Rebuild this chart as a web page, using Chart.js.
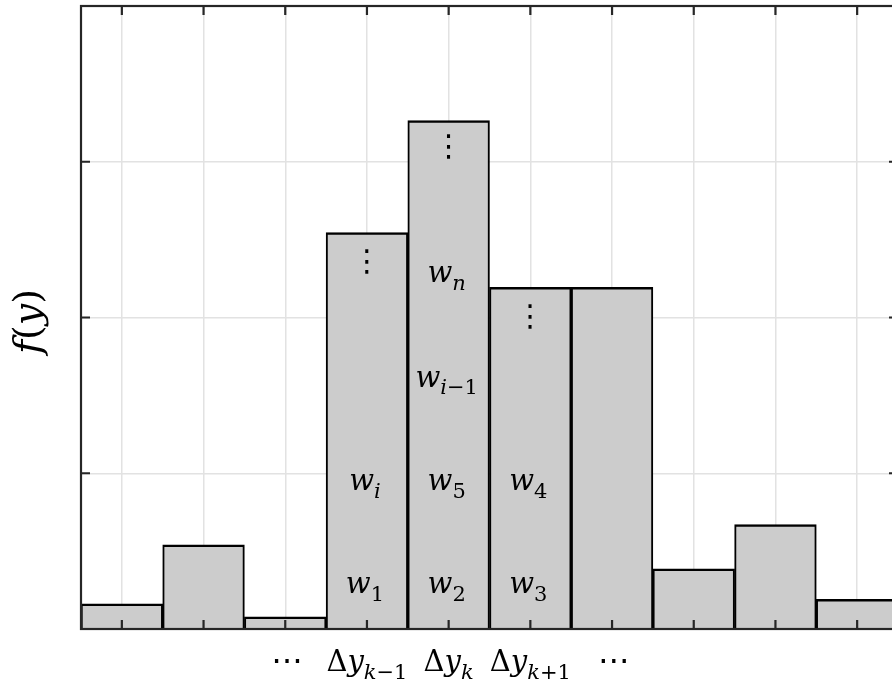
<!DOCTYPE html>
<html>
<head>
<meta charset="utf-8">
<script src="https://cdn.jsdelivr.net/npm/chart.js@4"></script>
<style>
  html, body { margin: 0; padding: 0; background: #fff; overflow: hidden; }
  /* the plot box runs a little past the right edge of the window, as in the original */
  #hist { display: block; }
</style>
</head>
<body>
<canvas id="hist" width="920" height="685"></canvas>
<script>
// histogram bins, heights
const bins = ['b1', 'b2', 'b3', 'b4', 'b5', 'b6', 'b7', 'b8', 'b9', 'b10'];
const density = [0.162, 0.541, 0.078, 2.546, 3.264, 2.193, 2.193, 0.387, 0.670, 0.190];
const binLabels = ['', '', '⋯', 'Δy_{k−1}', 'Δy_k', 'Δy_{k+1}', '⋯', '', '', ''];
const yMax = 4;
const yTitle = 'f(y)';

// weights written inside the bars: bin index, height (data units), text
const noteBin = [3, 3, 3, 4, 4, 4, 4, 4, 5, 5, 5];
const noteAt = [0.228, 0.89, 2.351, 0.228, 0.89, 1.556, 2.229, 3.085, 0.228, 0.89, 1.998];
const noteText = ['w_1', 'w_i', '⋮', 'w_2', 'w_5', 'w_{i−1}', 'w_n', '⋮', 'w_3', 'w_4', '⋮'];

const SERIF = '"DejaVu Serif", "DejaVu Sans", serif';

// split 'Δy_{k−1}' into runs: base text and subscript
function parseMath(s) {
    const runs = [];
    let i = 0;
    while (i < s.length) {
        if (s[i] === '_') {
            let sub;
            if (s[i + 1] === '{') {
                const end = s.indexOf('}', i);
                sub = s.slice(i + 2, end);
                i = end + 1;
            } else {
                sub = s[i + 1];
                i += 2;
            }
            for (const ch of sub) runs.push({ ch, sub: true });
        } else {
            runs.push({ ch: s[i], sub: false });
            i++;
        }
    }
    return runs;
}

function fontFor(r, size) {
    const sz = r.sub ? Math.round(size * 0.74) : size;
    const italic = /[A-Za-z]/.test(r.ch);
    return (italic ? 'italic ' : '') + sz + 'px ' + SERIF;
}

// draws a little math string centred on x, baseline at y
function drawMath(ctx, s, x, y, size) {
    const runs = parseMath(s);
    let total = 0;
    runs.forEach(r => {
        ctx.font = fontFor(r, size);
        r.w = ctx.measureText(r.ch).width;
        total += r.w;
    });
    let cx = x - total / 2;
    ctx.textAlign = 'left';
    ctx.textBaseline = 'alphabetic';
    runs.forEach(r => {
        ctx.font = fontFor(r, size);
        ctx.fillText(r.ch, cx, y + (r.sub ? size * 0.27 : 0));
        cx += r.w;
    });
}

const boxPlugin = {
    id: 'box',
    afterDatasetsDraw(chart) {
        const { ctx, chartArea: a, scales } = chart;
        ctx.save();
        ctx.strokeStyle = '#262626';
        ctx.lineWidth = 2.2;
        ctx.strokeRect(a.left, a.top, a.right - a.left, a.bottom - a.top);
        // inward ticks on all four sides
        const len = 9;
        ctx.beginPath();
        scales.x.ticks.forEach((t, i) => {
            const px = scales.x.getPixelForTick(i);
            ctx.moveTo(px, a.bottom); ctx.lineTo(px, a.bottom - len);
            ctx.moveTo(px, a.top); ctx.lineTo(px, a.top + len);
        });
        scales.y.ticks.forEach((t, i) => {
            const py = scales.y.getPixelForTick(i);
            ctx.moveTo(a.left, py); ctx.lineTo(a.left + len, py);
            ctx.moveTo(a.right, py); ctx.lineTo(a.right - len, py);
        });
        ctx.stroke();
        ctx.restore();
    },
    afterDraw(chart) {
        const { ctx, chartArea: a, scales } = chart;
        ctx.save();
        ctx.fillStyle = '#000';
        // bin labels under the axis
        binLabels.forEach((lab, i) => {
            if (!lab) return;
            const px = scales.x.getPixelForTick(i);
            if (lab === '⋯') {
                ctx.font = '32px ' + SERIF;
                ctx.textAlign = 'center';
                ctx.textBaseline = 'alphabetic';
                ctx.fillText(lab, px + 2, a.bottom + 42);
            } else {
                drawMath(ctx, lab, px, a.bottom + 42, 29);
            }
        });
        // weights inside bars
        noteText.forEach((txt, i) => {
            const px = scales.x.getPixelForValue(noteBin[i]);
            const py = scales.y.getPixelForValue(noteAt[i]);
            if (txt === '⋮') {
                ctx.font = '30px ' + SERIF;
                ctx.textAlign = 'center';
                ctx.textBaseline = 'middle';
                ctx.fillText(txt, px, py);
            } else {
                drawMath(ctx, txt, px - 2, py, 29);
            }
        });
        // y axis title, rotated
        ctx.translate(40, (a.top + a.bottom) / 2 + 4);
        ctx.rotate(-Math.PI / 2);
        drawMath(ctx, yTitle, 0, 0, 38);
        ctx.restore();
    }
};

new Chart(document.getElementById('hist'), {
    type: 'bar',
    data: {
        labels: bins,
        datasets: [{
            data: density,
            backgroundColor: '#cccccc',
            borderColor: '#000000',
            borderWidth: { top: 2.5, left: 2, right: 2, bottom: 0 },
            categoryPercentage: 1,
            barPercentage: 1
        }]
    },
    options: {
        responsive: false,
        animation: false,
        layout: { padding: { left: 81, top: 6, right: 22, bottom: 56 } },
        plugins: {
            legend: { display: false },
            tooltip: { enabled: false }
        },
        scales: {
            x: {
                offset: true,
                grid: { offset: false, color: '#e2e2e2', lineWidth: 1.5, drawTicks: false },
                border: { display: false },
                ticks: { display: false }
            },
            y: {
                min: 0,
                max: yMax,
                ticks: { display: false, stepSize: 1 },
                grid: { color: '#e2e2e2', lineWidth: 1.5, drawTicks: false },
                border: { display: false }
            }
        }
    },
    plugins: [boxPlugin]
});
</script>
</body>
</html>
